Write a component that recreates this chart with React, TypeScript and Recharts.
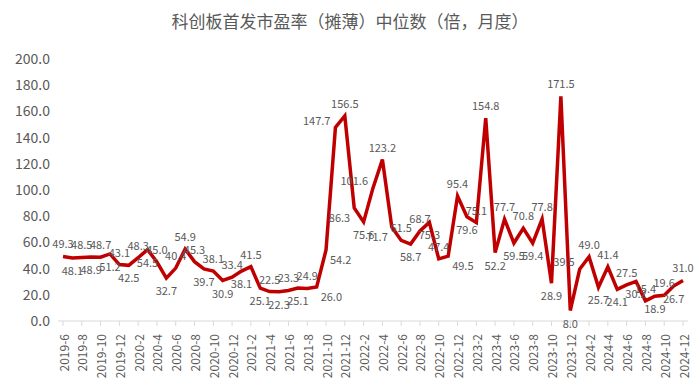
import { LineChart, Line, XAxis, YAxis, LabelList } from "recharts";

const months = [
  "2019-6", "2019-7", "2019-8", "2019-9", "2019-10", "2019-11", "2019-12",
  "2020-1", "2020-2", "2020-3", "2020-4", "2020-5", "2020-6", "2020-7", "2020-8", "2020-9", "2020-10", "2020-11", "2020-12",
  "2021-1", "2021-2", "2021-3", "2021-4", "2021-5", "2021-6", "2021-7", "2021-8", "2021-9", "2021-10", "2021-11", "2021-12",
  "2022-1", "2022-2", "2022-3", "2022-4", "2022-5", "2022-6", "2022-7", "2022-8", "2022-9", "2022-10", "2022-11", "2022-12",
  "2023-1", "2023-2", "2023-3", "2023-4", "2023-5", "2023-6", "2023-7", "2023-8", "2023-9", "2023-10", "2023-11", "2023-12",
  "2024-1", "2024-2", "2024-3", "2024-4", "2024-5", "2024-6", "2024-7", "2024-8", "2024-9", "2024-10", "2024-11", "2024-12",
];

const peMedian = [
  49.3, 48.1, 48.5, 48.9, 48.7, 51.2, 43.1,
  42.5, 48.3, 54.5, 45.0, 32.7, 40.4, 54.9, 45.3, 39.7, 38.1, 30.9, 33.4,
  38.1, 41.5, 25.1, 22.5, 22.3, 23.3, 25.1, 24.9, 26.0, 54.2, 147.7, 156.5,
  86.3, 75.6, 101.6, 123.2, 71.7, 61.5, 58.7, 68.7, 75.3, 47.4, 49.5, 95.4,
  79.6, 75.1, 154.8, 52.2, 77.7, 59.5, 70.8, 59.4, 77.8, 28.9, 171.5, 8.0,
  39.5, 49.0, 25.7, 41.4, 24.1, 27.5, 30.2, 15.4, 18.9, 19.6, 26.7, 31.0,
];

const yTicks = [0, 20, 40, 60, 80, 100, 120, 140, 160, 180, 200];

const data = months.map((m, i) => ({ month: m, pe: peMedian[i] }));

const GREY = "#595959";
const FONT = "'Noto Sans CJK SC', 'Noto Sans', sans-serif";

// peaks above, dips below, steep slopes to the clear side, the rest alternate
const PointLabel = (props: any) => {
  const { x, y, value, index } = props;
  const prev = peMedian[index - 1] ?? value;
  const next = peMedian[index + 1] ?? value;
  const dl = value - prev;
  const dr = next - value;
  let tx = x;
  let ty = index % 2 === 0 ? y - 8 : y + 17;
  let anchor: "middle" | "start" | "end" = "middle";
  if (dl > 8 && dr < -8) {
    ty = y - 8;
  } else if (dl < -8 && dr > 8) {
    ty = y + 17;
  } else if (dl > 0 && dr > 0 && Math.max(dl, dr) > 20) {
    if (dr > dl * 1.5) {
      tx = x + 4;
      ty = y + 14;
      anchor = "start";
    } else {
      tx = x - 5;
      ty = y - 3;
      anchor = "end";
    }
  } else if (dl < 0 && dr < 0 && Math.max(-dl, -dr) > 20) {
    if (-dl > -dr * 1.5) {
      tx = x - 4;
      ty = y + 14;
      anchor = "end";
    } else {
      tx = x + 5;
      ty = y - 3;
      anchor = "start";
    }
  }
  return (
    <text x={tx} y={ty} textAnchor={anchor} fontSize={11} fill={GREY} fontFamily={FONT}>
      {value.toFixed(1)}
    </text>
  );
};

const App = () => {
  return (
    <div style={{ position: "absolute", left: 0, top: 0, width: 700, height: 385, background: "#fff" }}>
      <div
        style={{
          position: "absolute",
          top: 8,
          width: 700,
          textAlign: "center",
          fontSize: 17,
          color: GREY,
          fontFamily: FONT,
        }}
      >
        科创板首发市盈率（摊薄）中位数（倍，月度）
      </div>
      <LineChart width={700} height={385} data={data} margin={{ top: 59, right: 12, left: 6, bottom: 0 }}>
        <XAxis
          dataKey="month"
          interval={1}
          padding={{ left: 5, right: 5 }}
          axisLine={{ stroke: "#d9d9d9" }}
          tickLine={{ stroke: "#d9d9d9" }}
          tickSize={5}
          height={64}
          tick={(p: any) => (
            <text
              x={p.x}
              y={p.y}
              transform={`rotate(-90, ${p.x}, ${p.y})`}
              textAnchor="end"
              dominantBaseline="central"
              dx={-6}
              fontSize={12}
              fill={GREY}
              fontFamily={FONT}
            >
              {p.payload.value}
            </text>
          )}
        />
        <YAxis
          domain={[0, 200]}
          ticks={yTicks}
          width={52}
          axisLine={false}
          tickLine={false}
          tickFormatter={(v: number) => v.toFixed(1)}
          tick={{ fontSize: 14, fill: GREY, fontFamily: FONT }}
        />
        <Line
          type="linear"
          dataKey="pe"
          stroke="#c00000"
          strokeWidth={3.5}
          dot={false}
          isAnimationActive={false}
        >
          <LabelList dataKey="pe" content={PointLabel} />
        </Line>
      </LineChart>
    </div>
  );
};

export default App;
